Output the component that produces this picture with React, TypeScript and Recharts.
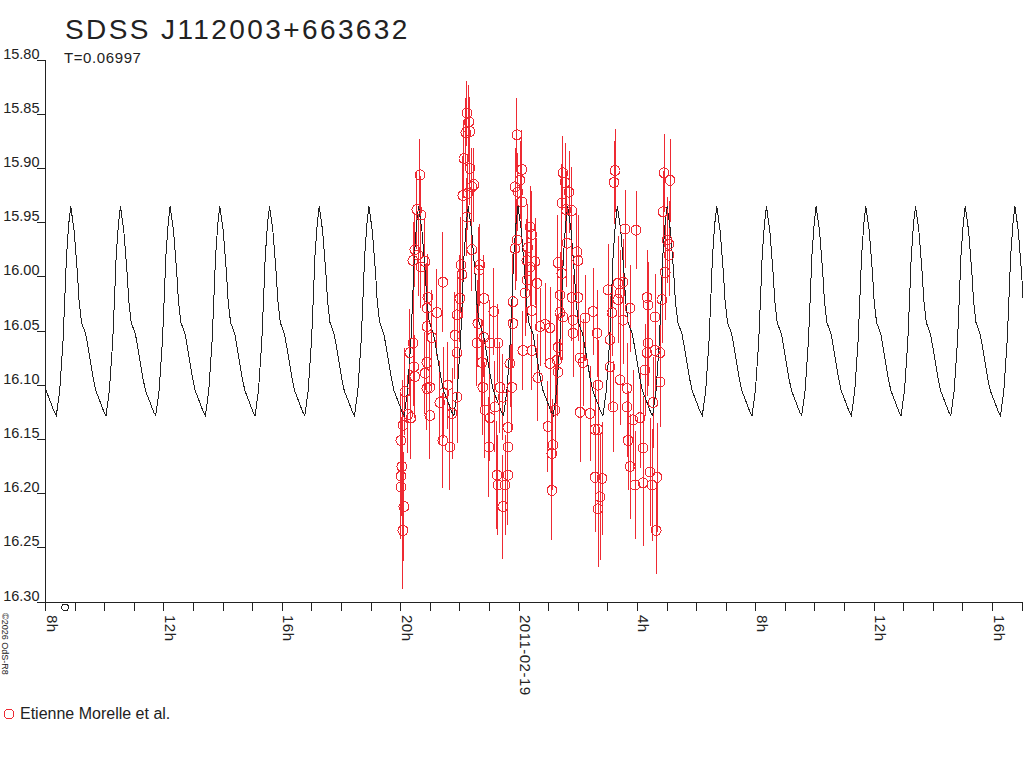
import React from "react";
import { ComposedChart, Line, Scatter, ErrorBar, XAxis, YAxis, ReferenceDot } from "recharts";

// ---- Observations (Etienne Morelle et al.) : time in hours since 2011-02-18 00:00, magnitude, error
const obsTime = [
  20.010, 20.078, 20.111, 20.010, 20.044, 20.010, 20.078, 20.145, 20.247, 20.348,
  20.314, 20.416, 20.449, 20.483, 20.416, 20.483, 20.551, 20.585, 20.652, 20.686,
  20.686, 20.821, 20.889, 20.889, 20.922, 20.889, 20.821, 20.990, 20.889, 20.990,
  21.058, 21.227, 21.328, 21.429, 21.463, 21.429, 21.598, 21.666, 21.734, 21.835,
  21.903, 21.903, 21.903, 22.004, 22.038, 22.072, 22.105, 22.139, 22.207, 22.240,
  22.308, 22.342, 22.342, 22.240, 22.274, 22.409, 22.477, 22.409, 22.578, 22.612,
  22.646, 22.680, 22.747, 22.781, 22.815, 22.815, 22.849, 22.984, 23.018, 23.018,
  23.153, 23.187, 23.254, 23.288, 23.288, 23.356, 23.457, 23.457, 23.525, 23.626,
  23.626, 23.626, 23.694, 23.761, 23.795, 23.795, 23.863, 23.863, 23.930, 23.930,
  23.964, 24.032, 24.099, 24.099, 24.133, 24.201, 24.268, 24.268, 24.302, 24.370,
  24.370, 24.437, 24.437, 24.437, 24.539, 24.606, 24.640, 24.708, 24.877, 24.978,
  25.046, 25.046, 25.113, 25.113, 25.147, 25.215, 25.282, 25.316, 25.316, 25.316,
  25.384, 25.384, 25.451, 25.451, 25.485, 25.485, 25.553, 25.587, 25.620, 25.688,
  25.789, 25.789, 25.823, 25.823, 25.958, 25.992, 25.992, 26.060, 26.060, 26.161,
  26.229, 26.398, 26.499, 26.567, 26.567, 26.634, 26.668, 26.668, 26.668, 26.736,
  26.803, 27.006, 27.074, 27.074, 27.141, 27.175, 27.209, 27.243, 27.344, 27.344,
  27.412, 27.412, 27.513, 27.513, 27.581, 27.648, 27.648, 27.682, 27.750, 27.750,
  27.851, 27.919, 27.952, 28.088, 28.189, 28.189, 28.257, 28.324, 28.324, 28.358,
  28.358, 28.426, 28.493, 28.527, 28.595, 28.595, 28.629, 28.662, 28.764, 28.764,
  28.831, 28.865, 28.899, 28.933, 29.000, 29.068, 29.068, 29.102,
];
const obsMag = [
  16.194, 16.234, 16.212, 16.184, 16.175, 16.151, 16.137, 16.106, 16.127, 16.130,
  16.070, 16.061, 16.083, 16.092, 15.985, 15.975, 15.938, 15.980, 15.906, 15.943,
  15.991, 15.986, 16.029, 16.046, 16.019, 16.079, 16.089, 16.102, 16.103, 16.128,
  16.056, 16.033, 16.116, 16.005, 16.107, 16.151, 16.100, 16.157, 16.126, 16.054,
  16.070, 16.111, 16.035, 16.020, 15.989, 15.998, 15.925, 15.891, 15.867, 15.849,
  15.857, 15.866, 15.900, 15.945, 15.923, 15.917, 15.915, 15.975, 16.061, 16.043,
  15.994, 15.989, 16.079, 16.102, 16.020, 16.056, 16.123, 16.157, 16.130, 16.061,
  16.032, 16.120, 16.183, 16.192, 16.061, 16.102, 16.111, 16.212, 16.192, 16.183,
  16.139, 16.157, 16.080, 16.102, 16.023, 16.043, 15.974, 15.917, 15.966, 15.869,
  15.922, 15.911, 15.901, 15.931, 16.068, 16.015, 16.003, 15.985, 15.973, 15.954,
  15.991, 15.961, 16.031, 16.068, 15.986, 16.006, 16.093, 16.046, 16.044, 16.138,
  16.047, 16.080, 16.163, 16.197, 16.155, 16.123, 16.077, 16.065, 16.088, 15.987,
  16.017, 16.033, 15.997, 15.932, 15.904, 16.037, 15.913, 15.938, 15.969, 15.922,
  15.939, 16.019, 16.040, 16.052, 15.977, 15.985, 16.019, 16.075, 16.125, 16.079,
  16.038, 16.126, 16.032, 16.141, 16.185, 16.052, 16.141, 16.100, 16.214, 16.203,
  16.186, 16.012, 16.083, 16.058, 16.033, 16.120, 15.913, 15.902, 16.006, 16.021,
  16.015, 16.095, 16.005, 16.040, 15.956, 16.103, 16.120, 16.151, 16.029, 16.175,
  16.132, 16.192, 15.957, 16.130, 16.190, 16.158, 16.086, 16.070, 16.019, 16.061,
  16.026, 16.180, 16.192, 16.116, 16.068, 16.037, 16.234, 16.185, 16.070, 16.097,
  16.021, 15.940, 15.904, 15.996, 15.966, 15.980, 15.970, 15.911,
];
const obsErr = [
  0.048, 0.054, 0.050, 0.045, 0.046, 0.044, 0.042, 0.040, 0.036, 0.038,
  0.040, 0.042, 0.036, 0.038, 0.036, 0.034, 0.036, 0.038, 0.033, 0.036,
  0.038, 0.040, 0.042, 0.036, 0.040, 0.040, 0.038, 0.042, 0.038, 0.040,
  0.044, 0.040, 0.038, 0.046, 0.042, 0.044, 0.040, 0.040, 0.042, 0.040,
  0.038, 0.042, 0.040, 0.040, 0.044, 0.040, 0.036, 0.036, 0.032, 0.030,
  0.034, 0.032, 0.034, 0.036, 0.034, 0.036, 0.034, 0.038, 0.040, 0.040,
  0.040, 0.038, 0.040, 0.044, 0.040, 0.036, 0.044, 0.046, 0.040, 0.040,
  0.040, 0.042, 0.050, 0.046, 0.036, 0.042, 0.040, 0.048, 0.046, 0.046,
  0.042, 0.042, 0.040, 0.040, 0.044, 0.040, 0.038, 0.036, 0.038, 0.034,
  0.036, 0.036, 0.036, 0.038, 0.036, 0.040, 0.040, 0.038, 0.040, 0.038,
  0.036, 0.040, 0.042, 0.036, 0.040, 0.042, 0.040, 0.036, 0.038, 0.042,
  0.038, 0.040, 0.044, 0.046, 0.042, 0.042, 0.040, 0.040, 0.040, 0.044,
  0.040, 0.044, 0.040, 0.036, 0.034, 0.040, 0.036, 0.036, 0.040, 0.038,
  0.040, 0.040, 0.042, 0.040, 0.040, 0.042, 0.040, 0.040, 0.046, 0.040,
  0.040, 0.044, 0.040, 0.046, 0.050, 0.040, 0.044, 0.042, 0.054, 0.058,
  0.052, 0.042, 0.040, 0.040, 0.040, 0.042, 0.038, 0.038, 0.044, 0.040,
  0.040, 0.042, 0.040, 0.040, 0.036, 0.042, 0.046, 0.046, 0.040, 0.048,
  0.046, 0.050, 0.036, 0.046, 0.058, 0.048, 0.042, 0.040, 0.044, 0.040,
  0.040, 0.050, 0.052, 0.042, 0.040, 0.040, 0.040, 0.050, 0.040, 0.042,
  0.040, 0.038, 0.036, 0.044, 0.040, 0.038, 0.040, 0.038,
];

// ---- Ephemeris light-curve template (one cycle, phase 0 = maximum light)
const curvePhase = [0, 0.067, 0.135, 0.167, 0.216, 0.302, 0.337, 0.403, 0.45, 0.504, 0.605, 0.671, 0.71, 0.778, 0.845, 0.879, 0.913, 0.96];
const curveMag = [15.935, 15.957, 15.997, 16.022, 16.042, 16.053, 16.062, 16.08, 16.093, 16.105, 16.117, 16.125, 16.128, 16.105, 16.059, 16.022, 15.982, 15.951];
const PERIOD_DAYS = 0.06997;
const EPOCH_HOURS = 8.85;
const FIRST_CYCLE = -1;
const LAST_CYCLE = 20;

// ---- Axes
const hourTicks = [8, 9, 10, 11, 12, 13, 14, 15, 16, 17, 18, 19, 20, 21, 22, 23, 24, 25, 26, 27, 28, 29, 30, 31, 32, 33, 34, 35, 36, 37, 38, 39, 40, 41];
const labelHours = [8, 12, 16, 20, 24, 28, 32, 36, 40];
const labelTexts = ["8h", "12h", "16h", "20h", "2011-02-19", "4h", "8h", "12h", "16h"];
const magTicks = [15.8, 15.85, 15.9, 15.95, 16.0, 16.05, 16.1, 16.15, 16.2, 16.25, 16.3];
const X_DOMAIN = [7.98, 41.03];
const Y_DOMAIN = [15.8, 16.3];
const markerPoint = { t: 8.66, mag: 16.305 };

const TITLE = "SDSS J112003+663632";
const SUBTITLE = "T=0.06997";
const LEGEND = "Etienne Morelle et al.";
const CREDIT = "\u00A92026 OdS-R8";

const RED = "#ee2a33";
const INK = "#222222";
const FONT = "'Liberation Sans', Arial, sans-serif";

const obsData = obsTime.map((t, i) => ({ t, mag: obsMag[i], err: obsErr[i] }));
const periodHours = PERIOD_DAYS * 24;
const curveData: { t: number; mag: number }[] = [];
for (let k = FIRST_CYCLE; k <= LAST_CYCLE; k++) {
  for (let j = 0; j < curvePhase.length; j++) {
    curveData.push({ t: EPOCH_HOURS + (k + curvePhase[j]) * periodHours, mag: curveMag[j] });
  }
}

const XTick = (props: any) => {
  const { x, y, payload } = props;
  const idx = labelHours.indexOf(payload.value);
  if (idx < 0) return <g />;
  return (
    <text
      transform={`translate(${x + 1},${y + 2}) rotate(90)`}
      textAnchor="start"
      fontSize={15}
      letterSpacing={0.5}
      fontFamily={FONT}
      fill={INK}
    >
      {labelTexts[idx]}
    </text>
  );
};

const YTick = (props: any) => {
  const { x, y, payload } = props;
  return (
    <text x={x + 2.5} y={y - 1.5} textAnchor="end" fontSize={14.5} fontFamily={FONT} fill={INK}>
      {Number(payload.value).toFixed(2)}
    </text>
  );
};

const OpenCircle = (props: any) => {
  const { cx, cy } = props;
  if (cx == null || cy == null) return <g />;
  return <circle cx={cx} cy={cy} r={5} fill="none" stroke={RED} strokeWidth={1} />;
};

export default function App() {
  return (
    <div style={{ position: "absolute", left: 0, top: 0, width: 1024, height: 768, background: "#fff" }}>
      <ComposedChart
        width={1024}
        height={768}
        margin={{ top: 60, right: 1, bottom: 0, left: 0 }}
        style={{ shapeRendering: "crispEdges" }}
      >
        <XAxis
          type="number"
          dataKey="t"
          domain={X_DOMAIN}
          ticks={hourTicks}
          allowDataOverflow
          interval={0}
          height={166}
          tickSize={9}
          tickMargin={2}
          tick={<XTick />}
          axisLine={{ stroke: INK }}
          tickLine={{ stroke: INK }}
        />
        <YAxis
          type="number"
          dataKey="mag"
          domain={Y_DOMAIN}
          ticks={magTicks}
          reversed
          allowDataOverflow
          interval={0}
          width={45}
          tickSize={8}
          tickMargin={0}
          tick={<YTick />}
          axisLine={{ stroke: INK }}
          tickLine={{ stroke: INK }}
        />
        <Scatter data={obsData} dataKey="mag" shape={<OpenCircle />} isAnimationActive={false}>
          <ErrorBar dataKey="err" direction="y" width={0} stroke={RED} strokeWidth={1} isAnimationActive={false} />
        </Scatter>
        <Line
          data={curveData}
          dataKey="mag"
          type="linear"
          stroke={INK}
          strokeWidth={1}
          dot={false}
          activeDot={false}
          isAnimationActive={false}
        />
        <ReferenceDot
          x={markerPoint.t}
          y={markerPoint.mag}
          r={3.3}
          fill="none"
          stroke={INK}
          strokeWidth={1}
          ifOverflow="visible"
        />
      </ComposedChart>
      <svg
        width={1024}
        height={768}
        style={{ position: "absolute", left: 0, top: 0, pointerEvents: "none" }}
      >
        <text x={65} y={38.5} fontSize={28} letterSpacing={2.4} fontFamily={FONT} fill={INK}>
          {TITLE}
        </text>
        <text x={64} y={63} fontSize={15} letterSpacing={0.6} fontFamily={FONT} fill={INK}>
          {SUBTITLE}
        </text>
        <circle cx={9} cy={714} r={5} fill="none" stroke={RED} strokeWidth={1} style={{ shapeRendering: "crispEdges" }} />
        <text x={20} y={719} fontSize={16} fontFamily={FONT} fill={INK}>
          {LEGEND}
        </text>
        <text transform="translate(1.5,613) rotate(90)" fontSize={9} fontFamily={FONT} fill={INK}>
          {CREDIT}
        </text>
      </svg>
    </div>
  );
}
